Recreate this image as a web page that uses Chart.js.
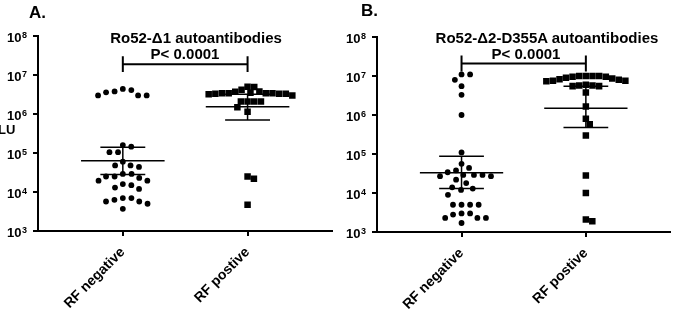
<!DOCTYPE html>
<html>
<head>
<meta charset="utf-8">
<script src="https://cdn.jsdelivr.net/npm/chart.js@4.4.1/dist/chart.umd.min.js"></script>
<style>
  html, body { margin: 0; padding: 0; background: #fff; }
  body { width: 675px; height: 310px; position: relative; overflow: hidden;
         font-family: Arial, "Liberation Sans", sans-serif; font-weight: bold; color: #000; }
  canvas { position: absolute; top: 0; }
  .lbl { position: absolute; white-space: nowrap; line-height: 1; }
  .c { transform: translateX(-50%); }
</style>
</head>
<body>
<canvas id="chartA" width="337" height="310" style="left:0"></canvas>
<canvas id="chartB" width="338" height="310" style="left:337px"></canvas>
<div class="lbl" style="left:29px;top:4px;font-size:17px">A.</div>
<div class="lbl" style="left:361px;top:2px;font-size:17px">B.</div>
<div class="lbl" style="left:-2px;top:123px;font-size:13px">LU</div>
<div class="lbl c" id="titleA" style="left:196px;top:30px;font-size:15px"></div>
<div class="lbl c" id="pA" style="left:185px;top:46px;font-size:15px"></div>
<div class="lbl c" id="titleB" style="left:547px;top:30px;font-size:15px"></div>
<div class="lbl c" id="pB" style="left:526px;top:46px;font-size:15px"></div>
<script>
// categories and axis ticks
const groups = ['RF negative', 'RF postive'];
const yTicks = [1e3, 1e4, 1e5, 1e6, 1e7, 1e8];

// panel A - Ro52-Δ1
const titleA = 'Ro52-\u03941 autoantibodies';
const pTextA = 'P< 0.0001';
const negA = [4.4e6, 3.8e6, 3.0e6, 3.0e6, 3.0e6, 3.6e6, 4.1e6,
              1.6e5, 1.45e5, 1.05e5, 1.05e5, 6.0e4, 4.8e4, 4.4e4, 4.8e4,
              2.9e4, 2.5e4, 2.3e4, 2.5e4, 2.9e4,
              1.95e4, 1.5e4, 1.2e4, 1.3e4, 1.6e4, 1.95e4,
              7.0e3, 6.3e3, 5.7e3, 5.7e3, 7.0e3, 5.0e3, 3.7e3];
const posA = [5.0e6, 4.9e6,
              3.4e6, 3.3e6, 3.7e6, 3.5e6, 3.2e6, 3.4e6, 3.4e6, 3.8e6, 3.3e6, 4.2e6, 3.4e6, 3.0e6, 3.3e6,
              2.1e6, 2.1e6, 2.1e6, 2.1e6, 1.5e6, 1.15e6,
              2.5e4, 2.2e4, 4.7e3];
const midA = [6.3e4, 1.53e6];
const hiA = [1.4e5, 3.2e6];
const loA = [2.8e4, 7.0e5];
const bracketA = 1.9e7;

// panel B - Ro52-Δ2-D355A
const titleB = 'Ro52-\u03942-D355A autoantibodies';
const pTextB = 'P< 0.0001';
const negB = [1.1e7, 1.1e7, 8.0e6, 5.5e6, 3.3e6, 1.0e6, 1.1e5,
              5.6e4, 4.4e4, 3.8e4, 3.4e4, 2.9e4, 2.7e4, 2.7e4, 2.9e4, 2.9e4,
              2.2e4, 1.8e4, 1.3e4, 1.2e4, 1.4e4, 9.0e3,
              5.0e3, 5.0e3, 5.0e3, 5.0e3, 3.0e3, 3.0e3, 2.8e3, 2.3e3, 2.3e3, 2.3e3, 1.7e3];
const posB = [1.0e7, 1.0e7, 9.6e6, 8.6e6, 8.0e6, 7.6e6, 7.3e6, 7.6e6, 8.2e6, 9.0e6, 9.6e6, 1.0e7, 1.0e7,
              6.0e6, 5.7e6, 5.5e6, 5.5e6, 5.7e6,
              3.8e6, 1.66e6, 8.0e5, 5.8e5, 3.0e5, 2.8e4, 1.0e4, 1.9e3, 2.1e3];
const midB = [3.3e4, 1.5e6];
const hiB = [8.7e4, 5.5e6];
const loB = [1.3e4, 4.8e5];
const bracketB = 2.1e7;

const PX_PER_CAT = 125;
const PX_PER_DEC = 39;
const MEAN_HALF = 0.335;
const CAP_HALF = 0.18;

// simple beeswarm: offsets (in category units) so dots don't overlap
function swarm(values, dist) {
    const placed = [];
    const out = new Array(values.length);
    const order = values.map((v, i) => i).sort((a, b) => values[b] - values[a]);
    order.forEach(i => {
        const y = Math.log10(values[i]) * PX_PER_DEC;
        const cands = [0];
        placed.forEach(p => {
            const dy = Math.abs(p.y - y);
            if (dy < dist) {
                const dx = Math.sqrt(dist * dist - dy * dy);
                cands.push(p.x + dx, p.x - dx);
            }
        });
        cands.sort((a, b) => Math.abs(a) - Math.abs(b));
        const x = cands.find(c => placed.every(p => (p.x - c) ** 2 + (p.y - y) ** 2 >= dist * dist - 0.01));
        placed.push({ x, y });
        out[i] = x / PX_PER_CAT;
    });
    return out;
}

function seg(x0, x1, y0, y1) {
    return [{ x: x0, y: y0 }, { x: x1, y: y1 }];
}

function lineSet(data, w) {
    return { data, showLine: true, borderColor: '#000', borderWidth: w, pointRadius: 0, fill: false };
}

// y tick labels as 10 with a raised exponent
const expLabels = {
    id: 'expLabels',
    afterDraw(chart) {
        const y = chart.scales.y;
        const ctx = chart.ctx;
        ctx.save();
        ctx.fillStyle = '#000';
        ctx.textAlign = 'right';
        ctx.textBaseline = 'alphabetic';
        y.ticks.forEach(t => {
            const py = y.getPixelForValue(t.value);
            const exp = String(Math.round(Math.log10(t.value)));
            const right = y.right - 11;
            ctx.font = 'bold 9px Arial, "Liberation Sans", sans-serif';
            const ew = ctx.measureText(exp).width;
            ctx.fillText(exp, right, py + 1.5);
            ctx.font = 'bold 13px Arial, "Liberation Sans", sans-serif';
            ctx.fillText('10', right - ew - 0.5, py + 5.5);
        });
        ctx.restore();
    }
};

function buildPanel(id, neg, pos, mid, hi, lo, bracketY, box) {
    const negX = swarm(neg, 8.6);
    const posX = swarm(pos, 6.7);
    const datasets = [
        { data: neg.map((v, i) => ({ x: 1 + negX[i], y: v })), pointStyle: 'circle', pointRadius: 2.9,
          backgroundColor: '#000', borderWidth: 0 },
        { data: pos.map((v, i) => ({ x: 2 + posX[i], y: v })), pointStyle: 'rect', pointRadius: 4.6,
          backgroundColor: '#000', borderWidth: 0 }
    ];
    [1, 2].forEach((g, k) => {
        datasets.push(lineSet(seg(g - MEAN_HALF, g + MEAN_HALF, mid[k], mid[k]), 1.5));
        datasets.push(lineSet(seg(g - CAP_HALF, g + CAP_HALF, hi[k], hi[k]), 1.5));
        datasets.push(lineSet(seg(g - CAP_HALF, g + CAP_HALF, lo[k], lo[k]), 1.5));
        datasets.push(lineSet(seg(g, g, lo[k], hi[k]), 1.5));
    });
    datasets.push(lineSet(seg(1, 2, bracketY, bracketY), 2));
    datasets.push(lineSet(seg(1, 1, bracketY / 1.6, bracketY * 1.6), 2));
    datasets.push(lineSet(seg(2, 2, bracketY / 1.6, bracketY * 1.6), 2));

    const tickFont = { family: 'Arial, "Liberation Sans", sans-serif', size: 14, weight: 'bold' };
    return new Chart(document.getElementById(id), {
        type: 'scatter',
        data: { datasets },
        options: {
            responsive: false,
            animation: false,
            devicePixelRatio: 1,
            events: [],
            layout: { padding: { top: box.top, right: box.right, left: 0, bottom: 0 } },
            plugins: { legend: { display: false }, tooltip: { enabled: false } },
            scales: {
                x: {
                    type: 'linear', min: 0.32, max: 2.68,
                    afterBuildTicks: s => { s.ticks = [{ value: 1 }, { value: 2 }]; },
                    afterFit: s => { s.height = box.xh; },
                    border: { color: '#000', width: 2 },
                    grid: { drawOnChartArea: false, drawTicks: true, tickLength: 5, color: '#000', lineWidth: 2 },
                    ticks: { callback: v => groups[Math.round(v) - 1], color: '#000', font: tickFont,
                             minRotation: 45, maxRotation: 45, padding: 8 }
                },
                y: {
                    type: 'logarithmic', min: 1e3, max: 1e8,
                    afterBuildTicks: s => { s.ticks = yTicks.map(v => ({ value: v })); },
                    afterFit: s => { s.width = box.yw; },
                    border: { color: '#000', width: 2 },
                    grid: { drawOnChartArea: false, drawTicks: true, tickLength: 5, color: '#000', lineWidth: 2 },
                    ticks: { display: false }
                }
            }
        },
        plugins: [expLabels]
    });
}

document.getElementById('titleA').textContent = titleA;
document.getElementById('pA').textContent = pTextA;
document.getElementById('titleB').textContent = titleB;
document.getElementById('pB').textContent = pTextB;

buildPanel('chartA', negA, posA, midA, hiA, loA, bracketA, { top: 36, right: 4, yw: 38, xh: 79 });
buildPanel('chartB', negB, posB, midB, hiB, loB, bracketB, { top: 37, right: 1, yw: 40, xh: 78 });
</script>
</body>
</html>
